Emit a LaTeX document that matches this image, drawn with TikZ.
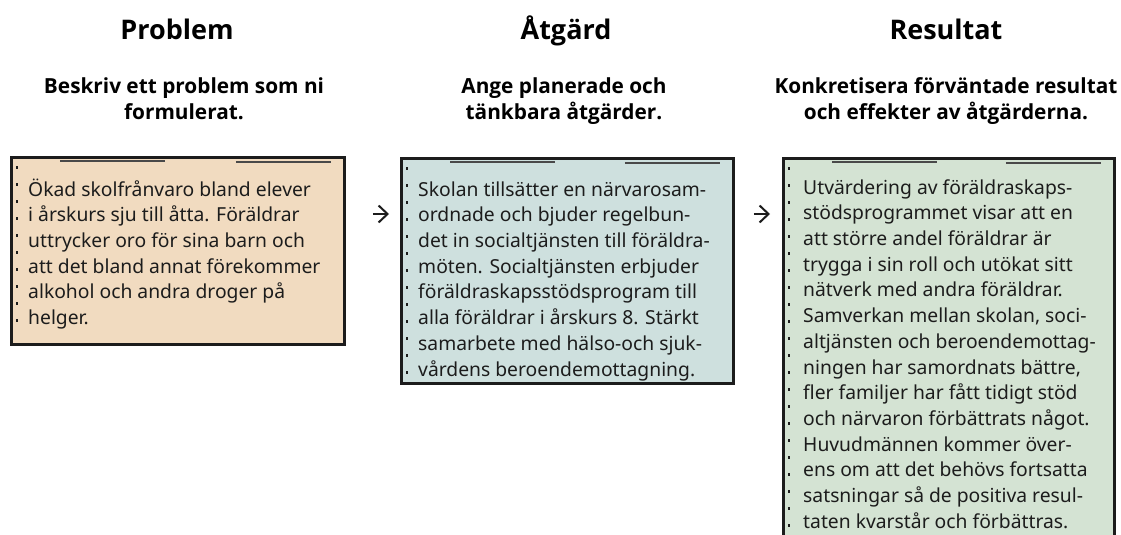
\documentclass[tikz,border=0pt]{standalone}
\usepackage{fontspec}
\setmainfont{Noto Sans}
\newfontfamily\headfont{Open Sans}
\usetikzlibrary{arrows.meta}
\definecolor{peach}{RGB}{241,219,192}
\definecolor{bluish}{RGB}{206,224,222}
\definecolor{greenish}{RGB}{212,227,211}
\definecolor{ink}{RGB}{28,28,28}
\begin{document}
\begin{tikzpicture}[x=1pt,y=-1pt,
  boxshape/.style={draw=ink, line width=2.8pt, anchor=north west, inner sep=0pt},
  body/.style={anchor=north west, align=left, inner sep=0pt, text=ink,
    font=\fontsize{19.3}{25.7}\selectfont},
  head/.style={anchor=base, inner sep=0pt, font=\headfont\bfseries\fontsize{27}{32}\selectfont},
  sub/.style={anchor=north, align=center, inner sep=0pt,
    font=\headfont\bfseries\fontsize{20.8}{26}\selectfont},
  flow/.style={-{Straight Barb[length=9pt,width=17pt,line width=2pt]}, line width=2pt, draw=ink},
  edgemarks/.style={draw=ink, line width=2.5pt, dash pattern=on 3pt off 14pt},
  trim/.style={draw=ink!80, line width=2.6pt}
]
\useasboundingbox (0,0) rectangle (1121,535);
\clip (0,0) rectangle (1121,535);

% headings
\node[head] (h1) at (177,40) {Problem};
\node[head] (h2) at (566,40) {Åtgärd};
\node[head] (h3) at (946,40) {Resultat};

\node[sub] (s1) at (184,75) {\strut Beskriv ett problem som ni\\formulerat.};
\node[sub] (s2) at (564,75) {\strut Ange planerade och\\tänkbara åtgärder.};
\node[sub] (s3) at (946,75) {\strut Konkretisera förväntade resultat\\och effekter av åtgärderna.};

% boxes
\node[boxshape, fill=peach, minimum width=333pt, minimum height=187pt] (b1) at (10,156) {};
\node[boxshape, fill=bluish, minimum width=332pt, minimum height=225pt] (b2) at (400,157) {};
\node[boxshape, fill=greenish, minimum width=331pt, minimum height=400pt] (b3) at (782,157) {};

% sketch details
\foreach \b in {b1,b2,b3}{
  \draw[edgemarks] ([xshift=7pt,yshift=-10pt]\b.north west) -- ([xshift=7pt,yshift=10pt]\b.south west);
  \draw[trim] ([xshift=50pt,yshift=-5pt]\b.north west) -- ([xshift=155pt,yshift=-5pt]\b.north west);
  \draw[trim] ([xshift=-110pt,yshift=-6pt]\b.north east) -- ([xshift=-15pt,yshift=-6pt]\b.north east);
}

% texts
\node[body] (t1) at (28,178) {\strut Ökad skolfrånvaro bland elever\\
i årskurs sju till åtta. Föräldrar\\
uttrycker oro för sina barn och\\
att det bland annat förekommer\\
alkohol och andra droger på\\
helger.};

\node[body] (t2) at (418,178) {\strut Skolan tillsätter en närvarosam-\\
ordnade och bjuder regelbun-\\
det in socialtjänsten till föräldra-\\
möten. Socialtjänsten erbjuder\\
föräldraskapsstödsprogram till\\
alla föräldrar i årskurs 8. Stärkt\\
samarbete med hälso-och sjuk-\\
vårdens beroendemottagning.};

\node[body] (t3) at (803,176) {\strut Utvärdering av föräldraskaps-\\
stödsprogrammet visar att en\\
att större andel föräldrar är\\
trygga i sin roll och utökat sitt\\
nätverk med andra föräldrar.\\
Samverkan mellan skolan, soci-\\
altjänsten och beroendemottag-\\
ningen har samordnats bättre,\\
fler familjer har fått tidigt stöd\\
och närvaron förbättrats något.\\
Huvudmännen kommer över-\\
ens om att det behövs fortsatta\\
satsningar så de positiva resul-\\
taten kvarstår och förbättras.};

% connectors
\draw[flow, shorten <=27pt, shorten >=11pt] (b1.east |- 0,214) -- (b2.west |- 0,214);
\draw[flow, shorten <=19pt, shorten >=12pt] (b2.east |- 0,214) -- (b3.west |- 0,214);
\end{tikzpicture}
\end{document}
